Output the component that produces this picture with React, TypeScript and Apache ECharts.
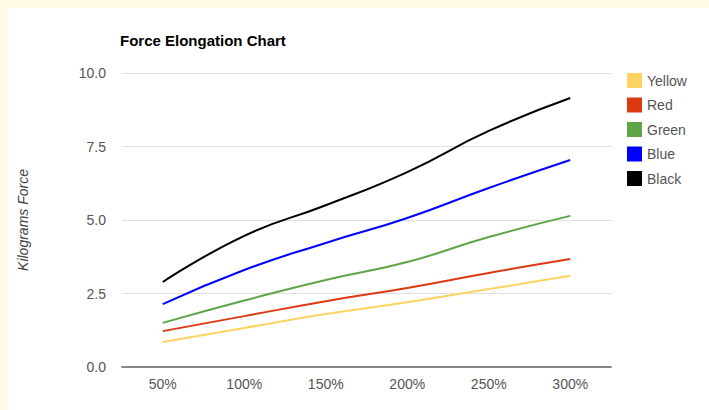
import React, { useEffect, useRef } from "react";
import * as echarts from "echarts";

const categories = ["50%", "100%", "150%", "200%", "250%", "300%"];
const yellowValues = [0.85, 1.33, 1.8, 2.2, 2.65, 3.1];
const redValues = [1.22, 1.73, 2.24, 2.69, 3.2, 3.67];
const greenValues = [1.5, 2.26, 2.96, 3.57, 4.42, 5.14];
const blueValues = [2.14, 3.3, 4.22, 5.07, 6.09, 7.04];
const blackValues = [2.89, 4.46, 5.5, 6.63, 8.03, 9.15];
const seriesNames = ["Yellow", "Red", "Green", "Blue", "Black"];
const seriesColors = ["#fdd35f", "#dc3912", "#5ea547", "#0000ff", "#000000"];
const yTicks = [0, 2.5, 5, 7.5, 10];

export default function App() {
  const ref = useRef<HTMLDivElement>(null);
  useEffect(() => {
    if (!ref.current) return;
    const chart = echarts.init(ref.current, null, { renderer: "svg" });
    const allValues = [yellowValues, redValues, greenValues, blueValues, blackValues];
    chart.setOption({
      animation: false,
      backgroundColor: "#ffffff",
      textStyle: { fontFamily: "Liberation Sans, Arial, sans-serif" },
      title: {
        text: "Force Elongation Chart",
        left: 107,
        top: 20,
        textStyle: { fontSize: 15, fontWeight: "bold", color: "#000", fontFamily: "Liberation Sans, Arial, sans-serif" },
      },
      legend: {
        orient: "vertical",
        left: 614,
        top: 60,
        icon: "rect",
        itemWidth: 15,
        itemHeight: 15,
        itemGap: 9.5,
        textStyle: { fontSize: 14, color: "#555" },
        data: seriesNames,
      },
      grid: { left: 113, right: 98, top: 65, bottom: 43 },
      xAxis: {
        type: "category",
        data: categories,
        boundaryGap: true,
        axisLine: { lineStyle: { color: "#888", width: 2 } },
        axisTick: { show: false },
        axisLabel: { color: "#555", fontSize: 14, margin: 10 },
      },
      yAxis: {
        type: "value",
        min: yTicks[0],
        max: yTicks[yTicks.length - 1],
        interval: 2.5,
        name: "Kilograms Force",
        nameLocation: "middle",
        nameGap: 92,
        nameTextStyle: { fontStyle: "italic", fontSize: 14, color: "#444" },
        axisLabel: { color: "#555", fontSize: 14, margin: 16, formatter: (v: number) => v.toFixed(1) },
        splitLine: { lineStyle: { color: "#e0e0e0", width: 1 } },
        axisLine: { show: false },
        axisTick: { show: false },
      },
      series: seriesNames.map((name, i) => ({
        name,
        type: "line",
        data: allValues[i],
        smooth: true,
        showSymbol: false,
        symbol: "none",
        color: seriesColors[i],
        lineStyle: { width: 2, color: seriesColors[i] },
      })),
    });
    return () => chart.dispose();
  }, []);
  return (
    <div style={{ position: "fixed", left: 0, top: 0, width: 709, height: 410, background: "#fffae6" }}>
      <div ref={ref} style={{ position: "absolute", left: 8, top: 8, width: 701, height: 402 }} />
    </div>
  );
}
